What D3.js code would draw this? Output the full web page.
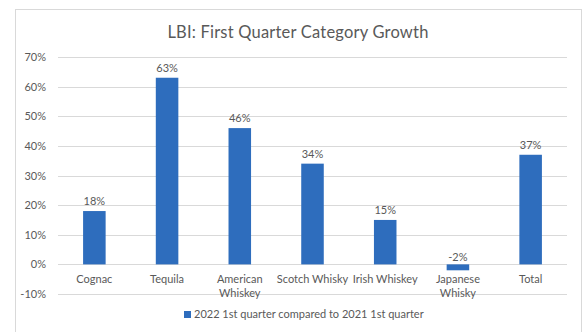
<!DOCTYPE html>
<html>
<head>
<meta charset="utf-8">
<script src="https://d3js.org/d3.v7.min.js"></script>
<style>
  body { margin: 0; background: #fff; }
  text { font-family: Lato, "Open Sans", sans-serif; fill: #595959; }
</style>
</head>
<body>
<div id="my_dataviz"></div>
<script>
// chart data
var categories = ["Cognac", "Tequila", "American Whiskey", "Scotch Whisky", "Irish Whiskey", "Japanese Whisky", "Total"];
var labelLines = [["Cognac"], ["Tequila"], ["American", "Whiskey"], ["Scotch Whisky"], ["Irish Whiskey"], ["Japanese", "Whisky"], ["Total"]];
var growth = [18, 63, 46, 34, 15, -2, 37];
var yTicks = [-10, 0, 10, 20, 30, 40, 50, 60, 70];
var seriesName = "2022 1st quarter compared to 2021 1st quarter";

var W = 584, H = 332;
var margin = {top: 57, right: 17, bottom: 38, left: 58},
    width = W - margin.left - margin.right,
    height = H - margin.top - margin.bottom;

var root = d3.select("#my_dataviz")
  .append("svg")
    .attr("width", W)
    .attr("height", H);

// outer chart frame
root.append("rect")
  .attr("x", 15.5).attr("y", 9.5)
  .attr("width", 566).attr("height", 340)
  .attr("fill", "none")
  .attr("stroke", "#d9d9d9");

root.append("text")
  .attr("x", 298)
  .attr("y", 38)
  .attr("text-anchor", "middle")
  .style("font-size", "16.5px")
  .style("letter-spacing", "0.2px")
  .text("LBI: First Quarter Category Growth");

var svg = root.append("g")
  .attr("transform", "translate(" + margin.left + "," + margin.top + ")");

var x = d3.scaleBand()
  .domain(categories)
  .range([0, width])
  .paddingInner(0.69)
  .paddingOuter(0.345);

var y = d3.scaleLinear()
  .domain([-10, 70])
  .range([height, 0]);

// gridlines
svg.append("g")
  .selectAll("line")
  .data(yTicks)
  .enter().append("line")
    .attr("x1", 0).attr("x2", width)
    .attr("y1", function(d) { return Math.round(y(d)) + 0.5; })
    .attr("y2", function(d) { return Math.round(y(d)) + 0.5; })
    .attr("stroke", "#d9d9d9")
    .attr("stroke-width", 1);

// y axis labels
var yAxis = svg.append("g")
  .call(d3.axisLeft(y).tickValues(yTicks).tickSize(0).tickPadding(12).tickFormat(function(d) { return d + "%"; }));
yAxis.select(".domain").remove();
yAxis.selectAll("text")
  .style("font-size", "11px")
  .style("fill", "#595959")
  .style("font-family", "Lato, sans-serif");

// bars
svg.selectAll(".bar")
  .data(growth)
  .enter().append("rect")
    .attr("class", "bar")
    .attr("x", function(d, i) { return x(categories[i]); })
    .attr("width", x.bandwidth())
    .attr("y", function(d) { return y(Math.max(0, d)); })
    .attr("height", function(d) { return Math.abs(y(d) - y(0)); })
    .attr("fill", "#2e6dbd");

// value labels
svg.selectAll(".val")
  .data(growth)
  .enter().append("text")
    .attr("class", "val")
    .attr("text-anchor", "middle")
    .attr("x", function(d, i) { return x(categories[i]) + x.bandwidth() / 2; })
    .attr("y", function(d) { return d >= 0 ? y(d) - 6 : y(0) - 3; })
    .style("font-size", "11px")
    .text(function(d) { return d + "%"; });

// category labels
labelLines.forEach(function(lines, i) {
  var t = svg.append("text")
    .attr("text-anchor", "middle")
    .attr("x", x(categories[i]) + x.bandwidth() / 2)
    .attr("y", y(0) + 19)
    .style("font-size", "11px");
  lines.forEach(function(l, j) {
    t.append("tspan")
      .attr("x", x(categories[i]) + x.bandwidth() / 2)
      .attr("dy", j === 0 ? 0 : 14)
      .text(l);
  });
});

// legend
var legend = root.append("g").attr("transform", "translate(184,318)");
legend.append("rect")
  .attr("x", 0).attr("y", -7)
  .attr("width", 7).attr("height", 7)
  .attr("fill", "#2e6dbd");
legend.append("text")
  .attr("x", 10).attr("y", 0)
  .style("font-size", "11px")
  .text(seriesName);
</script>
</body>
</html>
